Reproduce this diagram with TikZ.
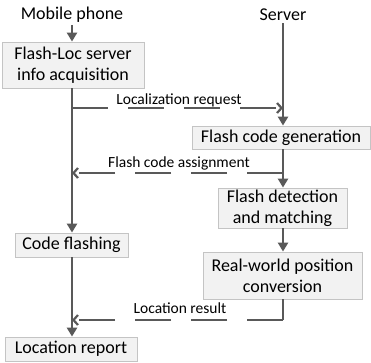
\documentclass[tikz,border=0pt]{standalone}
\usepackage{fontspec}
\setmainfont{Carlito}
\usetikzlibrary{arrows.meta,shadows}
\definecolor{linegray}{HTML}{595959}
\definecolor{boxfill}{HTML}{F2F2F2}
\definecolor{boxline}{HTML}{C4C4C4}
\begin{document}
\begin{tikzpicture}[x=1pt,y=-1pt,
  box/.style={draw=boxline, fill=boxfill, line width=0.8pt, inner sep=0pt, align=center,
    font=\fontsize{18}{21}\selectfont,
    drop shadow={shadow xshift=1.2pt, shadow yshift=-1.2pt, fill=gray!40, opacity=0.5}},
  title/.style={font=\fontsize{18}{20}\selectfont, inner sep=0pt},
  lbl/.style={font=\fontsize{15.5}{17}\selectfont, inner sep=0pt, anchor=base},
  flow/.style={draw=linegray, line width=2.4pt, -{Triangle[length=9pt,width=10pt]}},
  plain/.style={draw=linegray, line width=2.4pt},
  msg/.style={draw=linegray, line width=2.4pt, dash pattern=on 36pt off 20pt,
    -{Straight Barb[length=4.5pt,width=10pt,line width=2.2pt]}},
]
\useasboundingbox (0,0) rectangle (371,362);
\coordinate (L) at (72,0);
\coordinate (R) at (283,0);

\node[title] (mp) at (72,15) {Mobile phone};
\node[title] (srv) at (283,15) {Server};

\node[box, minimum width=142, minimum height=46] (b1) at (73,65) {Flash-Loc server\\info acquisition};
\node[box, minimum width=178, minimum height=23] (b2) at (281,137.5) {Flash code generation};
\node[box, minimum width=129, minimum height=40] (b3) at (282.5,208) {Flash detection\\and matching};
\node[box, minimum width=159, minimum height=47] (b4) at (282.5,275.5) {Real-world position\\conversion};
\node[box, minimum width=113, minimum height=24] (b5) at (71.5,245) {Code flashing};
\node[box, minimum width=132, minimum height=24] (b6) at (71,349) {Location report};

\coordinate (c1) at (72,108);
\coordinate (c2) at (283,173);
\coordinate (c3) at (283,320);

% left column
\draw[flow] (L |- mp.south) ++(0,2) -- (L |- b1.north);
\draw[flow] (L |- b1.south) -- (L |- b5.north);
\draw[flow] (L |- b5.south) -- (L |- b6.north);
% right column
\draw[flow] (R |- srv.south) ++(0,2) -- (R |- b2.north);
\draw[flow] (R |- b2.south) -- (R |- b3.north);
\draw[flow] (R |- b3.south) -- (R |- b4.north);
\draw[plain] (R |- b4.south) -- (c3);

% messages
\draw[msg] (c1) -- (R |- c1);
\draw[msg] (c2) -- (L |- c2);
\draw[msg] (c3) -- (L |- c3);

\node[lbl] (t1) at (179,104) {Localization request};
\node[lbl] (t2) at (179,167) {Flash code assignment};
\node[lbl] (t3) at (180,313) {Location result};
\end{tikzpicture}
\end{document}
